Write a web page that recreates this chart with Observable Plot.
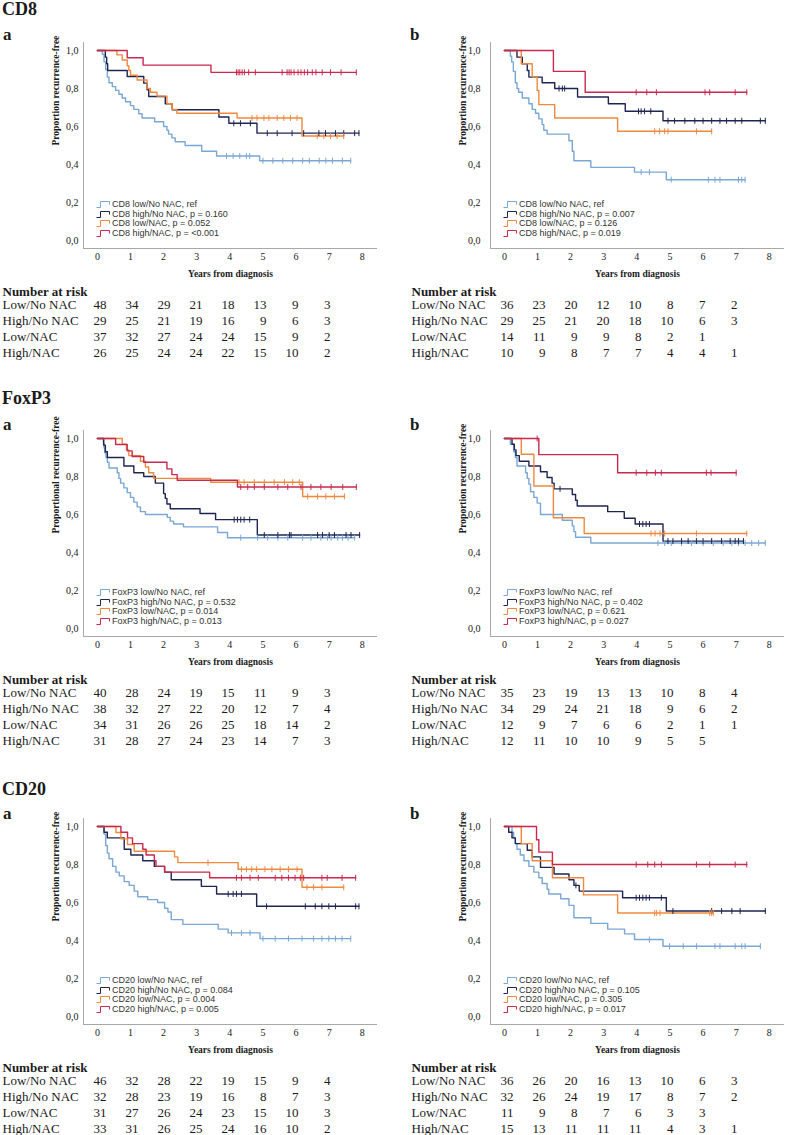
<!DOCTYPE html>
<html><head><meta charset="utf-8">
<script src="https://cdn.jsdelivr.net/npm/d3@7"></script>
<script src="https://cdn.jsdelivr.net/npm/@observablehq/plot@0.6"></script>
<style>
html,body{margin:0;padding:0;background:#fff;}
body{width:800px;height:1135px;position:relative;overflow:hidden;font-family:"Liberation Serif",serif;color:#1a1a1a;}
.abs{position:absolute;}
.title{font-weight:bold;font-size:18px;line-height:1;white-space:nowrap;}
.letter{font-weight:bold;font-size:17px;line-height:1;}
.leg{font-family:"Liberation Sans",Arial,sans-serif;font-size:9px;line-height:10px;color:#333;white-space:nowrap;}
.leg svg{vertical-align:top;margin-right:1px;}
svg{overflow:visible;}
</style></head><body>
<script>
// ---------- shared categories / ticks ----------
const years = [0,1,2,3,4,5,6,7,8];
const yTicks = [0,0.2,0.4,0.6,0.8,1.0];
const groupKeys = ["lowNo","highNo","lowNAC","highNAC"];
const groupNames = ["low/No NAC","high/No NAC","low/NAC","high/NAC"];
const riskRows = ["Low/No NAC","High/No NAC","Low/NAC","High/NAC"];
const groupColors = ["#7aa7d4","#1f2553","#f0893f","#c8294d"];
const markers = ["CD8","FoxP3","CD20"];

// ---------- CD8 a ----------  [years, proportion] at each step
const cd8a_lowNo = [[0.15,0.98],[0.2,0.94],[0.25,0.9],[0.3,0.86],[0.35,0.83],[0.45,0.81],[0.55,0.79],[0.65,0.77],[0.75,0.75],[0.85,0.73],[1.0,0.71],[1.1,0.69],[1.25,0.667],[1.35,0.645],[1.73,0.625],[2.0,0.6],[2.1,0.58],[2.15,0.56],[2.25,0.54],[2.35,0.52],[2.65,0.5],[3.15,0.47],[3.6,0.445],[4.9,0.42]];
const cd8a_lowNo_cens = [3.9,4.1,4.3,4.5,4.6,5.0,5.3,5.6,5.9,6.2,6.4,6.7,6.9,7.1,7.4,7.65];
const cd8a_highNo = [[0.24,0.965],[0.28,0.93],[0.31,0.895],[0.9,0.863],[1.4,0.828],[1.5,0.793],[1.55,0.758],[2.05,0.72],[2.26,0.688],[3.67,0.65],[3.97,0.617],[4.82,0.565]];
const cd8a_highNo_cens = [4.12,4.32,4.62,5.13,5.43,5.88,6.23,6.69,6.89,7.19,7.44,7.77,7.9];
const cd8a_lowNAC = [[0.59,0.977],[0.75,0.95],[0.9,0.92],[0.95,0.895],[1.0,0.87],[1.2,0.845],[1.5,0.8],[1.6,0.78],[1.8,0.76],[2.1,0.72],[2.26,0.69],[2.4,0.67],[4.22,0.645],[6.18,0.55]];
const cd8a_lowNAC_cens = [4.67,4.82,5.03,5.18,5.43,5.63,5.83,6.03,6.64,6.84,7.04,7.24,7.44];
const cd8a_highNAC = [[0.9,0.962],[1.38,0.923],[3.43,0.885]];
const cd8a_highNAC_cens = [4.2,4.25,4.3,4.37,4.44,4.57,4.77,5.58,5.73,5.79,5.85,5.94,6.06,6.15,6.25,6.35,6.49,6.6,6.79,7.04,7.36,7.82];
const cd8a_p = ["ref","p = 0.160","p = 0.052","p = <0.001"];
const cd8a_risk = [[48,34,29,21,18,13,9,3],[29,25,21,19,16,9,6,3],[37,32,27,24,24,15,9,2],[26,25,24,24,22,15,10,2]];

// ---------- CD8 b ----------
const cd8b_lowNo = [[0.18,0.97],[0.22,0.94],[0.27,0.89],[0.33,0.83],[0.38,0.8],[0.43,0.78],[0.54,0.75],[0.74,0.72],[0.84,0.69],[0.94,0.67],[1.04,0.64],[1.14,0.61],[1.19,0.58],[1.29,0.56],[1.95,0.525],[2.05,0.47],[2.1,0.42],[2.61,0.385],[3.93,0.36],[4.89,0.32]];
const cd8b_lowNo_cens = [4.13,4.38,5.04,6.16,6.36,6.51,7.07,7.17,7.27];
const cd8b_highNo = [[0.38,0.965],[0.54,0.93],[0.69,0.895],[0.74,0.86],[1.14,0.83],[1.52,0.8],[2.21,0.755],[3.14,0.72],[3.65,0.68],[4.79,0.63]];
const cd8b_highNo_cens = [1.65,1.75,1.82,4.05,4.13,4.23,4.42,4.94,5.14,5.45,5.75,6.0,6.26,6.51,6.71,6.97,7.17,7.73,7.88];
const cd8b_lowNAC = [[0.51,0.93],[0.84,0.86],[0.99,0.79],[1.04,0.715],[1.52,0.645],[3.42,0.575]];
const cd8b_lowNAC_cens = [4.54,4.69,4.84,4.94,5.8,6.26];
const cd8b_highNAC = [[1.48,0.89],[2.44,0.78]];
const cd8b_highNAC_cens = [3.98,4.3,4.59,6.06,6.2,6.97,7.32];
const cd8b_p = ["ref","p = 0.007","p = 0.126","p = 0.019"];
const cd8b_risk = [[36,23,20,12,10,8,7,2],[29,25,21,20,18,10,6,3],[14,11,9,9,8,2,1],[10,9,8,7,7,4,4,1]];

// ---------- FoxP3 a ----------
const foxa_lowNo = [[0.18,0.975],[0.2,0.95],[0.22,0.925],[0.26,0.9],[0.3,0.875],[0.35,0.845],[0.6,0.82],[0.65,0.79],[0.7,0.765],[0.8,0.74],[0.9,0.715],[1.0,0.69],[1.1,0.665],[1.2,0.64],[1.3,0.615],[1.45,0.6],[2.11,0.585],[2.2,0.565],[2.3,0.55],[2.6,0.535],[3.63,0.505],[3.93,0.478]];
const foxa_lowNo_cens = [4.33,4.84,5.14,5.45,5.75,6.2,6.45,6.75,6.95,7.06,7.26,7.4,7.57,7.77];
const foxa_highNo = [[0.19,0.965],[0.24,0.93],[0.3,0.9],[0.8,0.855],[1.1,0.82],[1.4,0.8],[1.75,0.765],[2.0,0.71],[2.05,0.685],[2.1,0.655],[2.2,0.63],[3.1,0.605],[3.57,0.573],[4.83,0.492]];
const foxa_highNo_cens = [4.13,4.23,4.33,4.43,4.6,5.04,5.45,5.8,5.85,6.65,6.8,7.0,7.16,7.51,7.66,7.92];
const foxa_lowNAC = [[0.75,0.97],[0.88,0.94],[0.95,0.91],[1.3,0.88],[1.45,0.85],[1.55,0.82],[1.7,0.79],[3.42,0.77],[6.2,0.695]];
const foxa_lowNAC_cens = [4.28,4.43,4.74,5.04,5.34,5.65,5.9,6.1,6.35,6.65,6.9,7.16,7.46];
const foxa_highNAC = [[0.55,0.968],[0.9,0.935],[1.05,0.905],[1.4,0.875],[2.1,0.84],[2.25,0.81],[2.41,0.78],[4.23,0.745]];
const foxa_highNAC_cens = [4.33,4.54,4.74,5.04,5.45,5.75,6.15,6.45,6.75,7.06,7.41,7.82];
const foxa_p = ["ref","p = 0.532","p = 0.014","p = 0.013"];
const foxa_risk = [[40,28,24,19,15,11,9,3],[38,32,27,22,20,12,7,4],[34,31,26,26,25,18,14,2],[31,28,27,24,23,14,7,3]];

// ---------- FoxP3 b ----------
const foxb_lowNo = [[0.18,0.97],[0.28,0.93],[0.33,0.9],[0.38,0.855],[0.64,0.82],[0.69,0.79],[0.74,0.76],[0.79,0.72],[0.89,0.69],[0.99,0.66],[1.09,0.6],[1.75,0.57],[2.05,0.54],[2.1,0.51],[2.15,0.48],[2.61,0.45]];
const foxb_lowNo_cens = [4.64,4.84,5.04,5.35,5.65,6.0,6.31,6.61,6.87,7.07,7.27,7.47,7.68,7.88];
const foxb_highNo = [[0.23,0.97],[0.3,0.94],[0.35,0.91],[0.45,0.88],[0.74,0.855],[1.09,0.825],[1.29,0.795],[1.44,0.765],[1.5,0.735],[2.05,0.705],[2.15,0.675],[2.2,0.645],[3.12,0.615],[3.62,0.58],[3.95,0.55],[4.79,0.46]];
const foxb_highNo_cens = [1.68,4.08,4.18,4.28,4.38,4.94,5.09,5.35,5.55,5.8,6.0,6.26,6.56,6.82,6.97,7.07,7.22];
const foxb_lowNAC = [[0.51,0.917],[0.89,0.75],[1.48,0.583],[2.41,0.5]];
const foxb_lowNAC_cens = [4.43,4.55,4.7,4.84,5.8,7.32];
const foxb_highNAC = [[1.04,0.915],[3.42,0.82]];
const foxb_highNAC_cens = [0.99,3.98,4.3,4.56,4.74,6.1,6.24,7.0];
const foxb_p = ["ref","p = 0.402","p = 0.621","p = 0.027"];
const foxb_risk = [[35,23,19,13,13,10,8,4],[34,29,24,21,18,9,6,2],[12,9,7,6,6,2,1,1],[12,11,10,10,9,5,5]];

// ---------- CD20 a ----------
const cd20a_lowNo = [[0.2,0.96],[0.25,0.9],[0.3,0.86],[0.35,0.83],[0.46,0.79],[0.56,0.76],[0.66,0.74],[0.81,0.71],[0.96,0.69],[1.11,0.66],[1.22,0.63],[1.52,0.615],[1.82,0.6],[2.03,0.57],[2.13,0.55],[2.23,0.51],[2.58,0.485],[3.65,0.46],[3.95,0.44],[4.91,0.41]];
const cd20a_lowNo_cens = [4.05,4.35,4.61,5.0,5.37,5.77,6.18,6.53,6.78,6.99,7.19,7.39,7.65];
const cd20a_highNo = [[0.2,0.97],[0.3,0.94],[0.81,0.88],[1.01,0.85],[1.37,0.82],[1.72,0.79],[2.03,0.76],[2.23,0.72],[3.14,0.685],[3.6,0.645],[4.81,0.58]];
const cd20a_highNo_cens = [3.95,4.1,4.2,4.35,5.11,6.28,6.58,6.78,6.99,7.19,7.8,7.9];
const cd20a_lowNAC = [[0.56,0.968],[0.71,0.935],[0.91,0.905],[1.11,0.87],[2.33,0.84],[2.43,0.81],[4.25,0.775],[6.18,0.68]];
const cd20a_lowNAC_cens = [3.34,4.35,4.5,4.66,4.81,5.06,5.27,5.52,5.77,6.03,6.33,6.53,6.78,7.44];
const cd20a_highNAC = [[0.71,0.97],[0.91,0.94],[1.06,0.91],[1.37,0.88],[1.47,0.85],[1.72,0.82],[1.77,0.79],[2.03,0.76],[3.39,0.73]];
const cd20a_highNAC_cens = [4.2,4.35,4.61,4.86,5.37,5.57,5.77,5.97,6.13,6.23,6.78,6.94,7.39,7.8];
const cd20a_p = ["ref","p = 0.084","p = 0.004","p = 0.005"];
const cd20a_risk = [[46,32,28,22,19,15,9,4],[32,28,23,19,16,8,7,3],[31,27,26,24,23,15,10,3],[33,31,26,25,24,16,10,2]];

// ---------- CD20 b ----------
const cd20b_lowNo = [[0.23,0.97],[0.28,0.94],[0.33,0.91],[0.38,0.88],[0.48,0.85],[0.59,0.82],[0.74,0.79],[0.89,0.76],[1.04,0.73],[1.14,0.7],[1.29,0.67],[1.34,0.645],[1.7,0.62],[1.95,0.585],[2.1,0.52],[2.61,0.49],[3.12,0.46],[3.63,0.435],[3.93,0.405],[4.79,0.37]];
const cd20b_lowNo_cens = [4.38,4.99,5.4,5.8,6.36,6.51,6.97,7.17,7.27,7.73];
const cd20b_highNo = [[0.13,0.97],[0.23,0.94],[0.33,0.91],[0.69,0.875],[0.84,0.84],[1.09,0.785],[1.5,0.75],[1.95,0.72],[2.1,0.69],[2.26,0.66],[3.57,0.625],[4.89,0.555]];
const cd20b_highNo_cens = [2.16,3.98,4.08,4.18,4.28,4.38,4.74,5.09,6.26,6.56,6.87,7.12,7.88];
const cd20b_lowNAC = [[0.51,0.91],[0.84,0.82],[1.45,0.73],[2.39,0.64],[3.42,0.545]];
const cd20b_lowNAC_cens = [4.54,4.6,4.7,6.2,6.26,6.31];
const cd20b_highNAC = [[0.97,0.93],[1.04,0.865],[1.45,0.8]];
const cd20b_highNAC_cens = [3.98,4.33,4.54,4.74,5.8,6.2,6.97,7.32];
const cd20b_p = ["ref","p = 0.105","p = 0.305","p = 0.017"];
const cd20b_risk = [[36,26,20,16,13,10,6,3],[32,26,24,19,17,8,7,2],[11,9,8,7,6,3,3],[15,13,11,11,11,4,3,1]];

// ---------- panel list ----------
const panels = [
  {sec:0,col:0,letter:"a",ylabel:"Proportion recurrence-free",ev:[cd8a_lowNo,cd8a_highNo,cd8a_lowNAC,cd8a_highNAC],ce:[cd8a_lowNo_cens,cd8a_highNo_cens,cd8a_lowNAC_cens,cd8a_highNAC_cens],p:cd8a_p,risk:cd8a_risk},
  {sec:0,col:1,letter:"b",ylabel:"Proportion recurrence-free",ev:[cd8b_lowNo,cd8b_highNo,cd8b_lowNAC,cd8b_highNAC],ce:[cd8b_lowNo_cens,cd8b_highNo_cens,cd8b_lowNAC_cens,cd8b_highNAC_cens],p:cd8b_p,risk:cd8b_risk},
  {sec:1,col:0,letter:"a",ylabel:"Proportional recurrence-free",ev:[foxa_lowNo,foxa_highNo,foxa_lowNAC,foxa_highNAC],ce:[foxa_lowNo_cens,foxa_highNo_cens,foxa_lowNAC_cens,foxa_highNAC_cens],p:foxa_p,risk:foxa_risk},
  {sec:1,col:1,letter:"b",ylabel:"Proportion recurrence-free",ev:[foxb_lowNo,foxb_highNo,foxb_lowNAC,foxb_highNAC],ce:[foxb_lowNo_cens,foxb_highNo_cens,foxb_lowNAC_cens,foxb_highNAC_cens],p:foxb_p,risk:foxb_risk},
  {sec:2,col:0,letter:"a",ylabel:"Proportion recurrence-free",ev:[cd20a_lowNo,cd20a_highNo,cd20a_lowNAC,cd20a_highNAC],ce:[cd20a_lowNo_cens,cd20a_highNo_cens,cd20a_lowNAC_cens,cd20a_highNAC_cens],p:cd20a_p,risk:cd20a_risk},
  {sec:2,col:1,letter:"b",ylabel:"Proportion recurrence-free",ev:[cd20b_lowNo,cd20b_highNo,cd20b_lowNAC,cd20b_highNAC],ce:[cd20b_lowNo_cens,cd20b_highNo_cens,cd20b_lowNAC_cens,cd20b_highNAC_cens],p:cd20b_p,risk:cd20b_risk}
];

// ---------- layout ----------
const SEC_TOP = [0, 388, 776];
const COL_LEFT = [0, 407];
const TITLE_TOP = [0, 1, 4];
const LETTER_TOP = [26, 28, 29];
const X_DOMAIN = [-0.42, 8.46];
const Y_DOMAIN = [-0.042, 1.042];
const SERIF = "Liberation Serif, Times New Roman, serif";

function stepRows(key, ev, ce) {
  const lastT = ev.length ? ev[ev.length-1][0] : 0;
  const end = Math.max(lastT, ce.length ? d3.max(ce) : 0);
  const rows = [{key, t:0, s:1}];
  for (const [t,s] of ev) rows.push({key, t, s});
  rows.push({key, t:end, s: ev.length ? ev[ev.length-1][1] : 1});
  return rows;
}
function survAt(ev, t) { let s = 1; for (const [te,se] of ev) if (te <= t) s = se; return s; }
const tickSymbol = { draw(ctx, size) { const h = Math.sqrt(size / Math.PI); ctx.moveTo(0,-h); ctx.lineTo(0,h); } };

function chart(p) {
  const lines = p.ev.flatMap((ev,i) => stepRows(groupKeys[i], ev, p.ce[i]));
  const cens = p.ce.flatMap((ce,i) => ce.map(t => ({key:groupKeys[i], t, s:survAt(p.ev[i], t)})));
  return Plot.plot({
    width: 393, height: 255, marginLeft: 83, marginRight: 16, marginTop: 12, marginBottom: 37,
    style: {fontFamily: SERIF, fontSize: "10px", color: "#1a1a1a", background: "transparent", overflow: "visible"},
    x: {domain: X_DOMAIN, ticks: years, tickSize: 0, tickPadding: 4, label: null, tickFormat: d => String(d)},
    y: {domain: Y_DOMAIN, ticks: yTicks, tickSize: 0, tickPadding: p.col ? 10 : 5, label: null, tickFormat: d => d.toFixed(1).replace(".", ",")},
    color: {domain: groupKeys, range: groupColors},
    marks: [
      Plot.ruleX([X_DOMAIN[0]], {stroke: "#a8a8a8", strokeWidth: 1}),
      Plot.ruleY([Y_DOMAIN[0]], {stroke: "#a8a8a8", strokeWidth: 1}),
      Plot.line(lines, {x: "t", y: "s", z: "key", stroke: "key", curve: "step-after", strokeWidth: 1.4}),
      Plot.dot(cens, {x: "t", y: "s", stroke: "key", fill: "none", symbol: tickSymbol, r: 3, strokeWidth: 1}),
      Plot.text([p.ylabel], {frameAnchor: "left", dx: -27.5, rotate: -90, fontWeight: "bold", fontSize: 9.5}),
      Plot.text(["Years from diagnosis"], {frameAnchor: "bottom", dy: 28, fontWeight: "bold", fontSize: 9.5})
    ]
  });
}

function table(p) {
  const labelX = p.col ? 4 : 2;
  const cells = p.risk.flatMap((row,r) => row.map((n,c) => ({row: riskRows[r], yr: years[c], n})));
  return Plot.plot({
    width: 393, height: 84, marginLeft: 106, marginRight: 63, marginTop: 25, marginBottom: 9,
    style: {fontFamily: SERIF, fontSize: "13px", color: "#1a1a1a", background: "transparent", overflow: "visible"},
    x: {domain: [0, 7], axis: null},
    y: {domain: riskRows, type: "point", padding: 0, axis: null},
    marks: [
      Plot.text(["Number at risk"], {frameAnchor: "top-left", dx: labelX - 106, dy: -17, textAnchor: "start", fontWeight: "bold", fontSize: 13}),
      Plot.text(riskRows, {y: d => d, frameAnchor: "left", dx: labelX - 106, textAnchor: "start", fontSize: 13}),
      Plot.text(cells, {x: "yr", y: "row", text: "n", textAnchor: "end", fontSize: 13})
    ]
  });
}

function place(el, left, top, w) {
  const d = document.createElement("div");
  d.className = "abs";
  d.style.left = left + "px"; d.style.top = top + "px";
  if (w) d.style.width = w + "px";
  d.appendChild(el);
  document.body.appendChild(d);
  return d;
}
function textDiv(cls, txt, left, top) {
  const d = document.createElement("div");
  d.className = "abs " + cls; d.textContent = txt;
  d.style.left = left + "px"; d.style.top = top + "px";
  document.body.appendChild(d);
  return d;
}

markers.forEach((m,i) => textDiv("title", m, 2, SEC_TOP[i] + TITLE_TOP[i]));

const legendY = [199, 208.7, 218.3, 228];
for (const p of panels) {
  const L = COL_LEFT[p.col], T = SEC_TOP[p.sec];
  const marker = markers[p.sec];
  textDiv("letter", p.letter, L + 3, T + LETTER_TOP[p.sec]);
  place(chart(p), L, T + 30, 393);
  place(table(p), L, T + 278, 393);
  groupKeys.forEach((k,i) => {
    const d = document.createElement("div");
    d.className = "abs leg";
    d.style.left = (L + 96) + "px"; d.style.top = (T + legendY[i]) + "px";
    const ns = "http://www.w3.org/2000/svg";
    const s = document.createElementNS(ns, "svg");
    s.setAttribute("width", 15); s.setAttribute("height", 10);
    const path = document.createElementNS(ns, "path");
    path.setAttribute("d", "M0.5,8.5H4.5V2.5H13.5V5.5");
    path.setAttribute("fill", "none"); path.setAttribute("stroke", groupColors[i]); path.setAttribute("stroke-width", "1");
    s.appendChild(path);
    d.appendChild(s);
    const span = document.createElement("span");
    span.textContent = `${marker} ${groupNames[i]}, ${p.p[i]}`;
    d.appendChild(span);
    document.body.appendChild(d);
  });
}
</script>
</body></html>
